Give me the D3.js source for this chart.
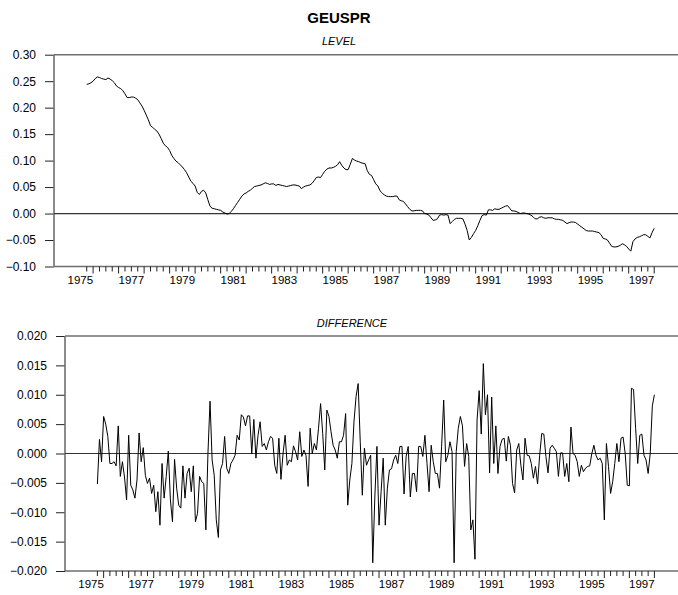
<!DOCTYPE html>
<html><head><meta charset="utf-8">
<script src="https://cdn.jsdelivr.net/npm/d3@7/dist/d3.min.js"></script>
<style>body{margin:0;background:#fff}svg{display:block;font-family:"Liberation Sans",Arial,sans-serif}</style>
</head><body><svg id="c" width="678" height="595"></svg>
<script>
// Monthly observations starting 1975:10
const startYear = 1975.75;
const level = [
0.244,0.245,0.247,0.250,0.255,0.258,0.257,0.255,0.254,0.253,0.256,0.254,0.251,0.247,0.241,0.238,0.236,0.232,0.226,0.219,
0.219,0.220,0.220,0.218,0.215,0.209,0.203,0.195,0.186,0.177,0.166,0.163,0.159,0.156,0.150,0.142,0.133,0.128,0.125,0.119,
0.110,0.104,0.099,0.096,0.092,0.088,0.083,0.077,0.069,0.061,0.057,0.052,0.040,0.036,0.042,0.044,0.039,0.026,0.014,0.010,
0.009,0.008,0.007,0.006,0.003,0.001,-0.001,0.000,0.004,0.009,0.015,0.021,0.027,0.033,0.037,0.039,0.042,0.044,0.048,0.051,
0.052,0.053,0.054,0.056,0.058,0.057,0.055,0.056,0.056,0.053,0.055,0.054,0.053,0.052,0.051,0.052,0.053,0.054,0.054,0.053,
0.052,0.047,0.050,0.052,0.053,0.054,0.057,0.062,0.068,0.069,0.068,0.074,0.080,0.084,0.086,0.086,0.087,0.089,0.092,0.098,
0.091,0.086,0.083,0.083,0.093,0.104,0.101,0.099,0.098,0.096,0.095,0.094,0.081,0.074,0.072,0.064,0.056,0.052,0.043,0.039,
0.035,0.033,0.032,0.032,0.032,0.033,0.033,0.026,0.024,0.023,0.018,0.013,0.008,0.005,0.005,0.006,0.006,0.006,0.005,0.000,
-0.001,-0.003,-0.008,-0.013,-0.012,-0.010,-0.003,-0.002,-0.003,-0.002,-0.003,-0.019,-0.015,-0.011,-0.009,-0.009,-0.009,-0.010,-0.020,-0.032,
-0.050,-0.045,-0.038,-0.032,-0.023,-0.013,-0.004,-0.002,-0.003,0.007,0.007,0.006,0.009,0.008,0.008,0.010,0.012,0.014,0.015,0.010,
0.005,0.005,0.004,0.002,0.000,0.001,0.001,0.000,-0.001,-0.003,-0.006,-0.010,-0.010,-0.007,-0.006,-0.008,-0.009,-0.008,-0.008,-0.008,
-0.010,-0.011,-0.011,-0.012,-0.013,-0.016,-0.019,-0.017,-0.016,-0.016,-0.017,-0.020,-0.023,-0.026,-0.029,-0.032,-0.033,-0.033,-0.033,-0.034,
-0.035,-0.036,-0.040,-0.047,-0.048,-0.050,-0.056,-0.062,-0.063,-0.063,-0.062,-0.060,-0.057,-0.059,-0.062,-0.067,-0.071,-0.053,-0.048,-0.045,
-0.044,-0.042,-0.040,-0.040,-0.043,-0.046,-0.036,-0.028
];
const difference = [
-0.0052,0.0024,-0.0014,0.0063,0.0050,0.0029,-0.0017,-0.0017,-0.0014,-0.0021,0.0047,-0.0039,-0.0014,-0.0040,-0.0079,0.0031,-0.0054,-0.0062,-0.0076,-0.0045,
0.0035,-0.0014,0.0010,-0.0037,-0.0051,-0.0042,-0.0068,-0.0054,-0.0099,-0.0065,-0.0122,-0.0017,-0.0076,-0.0039,0.0004,-0.0079,-0.0116,-0.0010,-0.0059,-0.0088,
-0.0093,-0.0021,-0.0076,-0.0034,-0.0025,-0.0065,-0.0021,-0.0116,-0.0102,-0.0039,-0.0048,-0.0051,-0.0130,0.0000,0.0089,-0.0011,-0.0037,-0.0113,-0.0143,-0.0028,
-0.0017,0.0029,-0.0025,-0.0034,-0.0017,-0.0011,-0.0003,0.0031,0.0023,0.0066,0.0062,0.0047,0.0064,0.0064,0.0000,0.0058,-0.0008,0.0031,0.0054,
0.0012,0.0017,0.0006,0.0020,0.0029,0.0026,-0.0020,-0.0034,0.0026,-0.0044,
0.0000,0.0031,-0.0020,-0.0011,-0.0014,0.0013,0.0003,-0.0011,0.0037,-0.0005,
0.0006,-0.0003,-0.0056,0.0043,0.0000,0.0017,0.0006,0.0043,0.0085,0.0034,
-0.0028,0.0074,0.0063,0.0037,0.0014,0.0006,-0.0008,0.0020,0.0020,0.0031,
0.0068,-0.0088,-0.0045,-0.0017,0.0054,0.0097,0.0119,0.0020,-0.0071,0.0009,
-0.0020,-0.0011,-0.0003,-0.0186,-0.0074,0.0012,-0.0122,-0.0065,-0.0008,-0.0122,
-0.0059,-0.0028,-0.0026,-0.0011,-0.0003,-0.0017,0.0012,0.0012,-0.0069,-0.0005,
0.0012,-0.0074,-0.0034,-0.0034,-0.0065,0.0012,0.0012,-0.0005,0.0031,-0.0017,
-0.0065,0.0014,-0.0014,-0.0034,-0.0034,-0.0059,0.0012,0.0091,-0.0014,-0.0003,
0.0020,0.0003,-0.0186,0.0003,0.0043,0.0063,
0.0047,-0.0022,0.0017,-0.0005,-0.0130,-0.0113,-0.0180,0.0057,0.0107,
0.0033,0.0153,0.0066,0.0100,-0.0033,0.0096,-0.0017,0.0047,-0.0034,
0.0012,0.0024,0.0026,-0.0013,0.0029,0.0014,-0.0051,-0.0067,0.0006,0.0017,
-0.0020,-0.0045,0.0026,-0.0003,-0.0004,-0.0017,-0.0042,-0.0022,-0.0052,-0.0003,
0.0034,0.0033,-0.0005,-0.0033,0.0009,0.0014,0.0009,0.0003,-0.0039,0.0001,
0.0001,-0.0039,-0.0017,-0.0048,0.0045,0.0000,-0.0003,-0.0014,-0.0039,-0.0020,
-0.0031,-0.0025,-0.0022,-0.0021,0.0000,0.0014,-0.0003,-0.0011,-0.0008,-0.0017,
-0.0113,0.0017,-0.0022,-0.0068,-0.0048,-0.0017,0.0017,-0.0014,0.0026,0.0028,
0.0000,-0.0054,-0.0055,0.0111,0.0109,0.0043,-0.0017,0.0031,0.0033,-0.0003,
-0.0011,-0.0034,0.0000,0.0081,0.0100
];
const levelTicks = [-0.10,-0.05,0.00,0.05,0.10,0.15,0.20,0.25,0.30];
const diffTicks = [-0.020,-0.015,-0.010,-0.005,0.000,0.005,0.010,0.015,0.020];
const yearLabels = [1975,1977,1979,1981,1983,1985,1987,1989,1991,1993,1995,1997];
const title = "GEUSPR";

const svg = d3.select("#c");
const W = 678;

function panel(o) {
  const g = svg.append("g");
  const tEnd = startYear + (o.data.length - 1) / 12;
  const x = d3.scaleLinear().domain([1975, 1998]).range([o.x0, o.x1]);
  const y = d3.scaleLinear().domain([o.ticks[0], o.ticks[o.ticks.length-1]]).range([o.yb, o.yt]);
  const axisCol = "#6e6e6e";
  g.append("line").attr("x1", o.ax).attr("x2", W).attr("y1", o.yt).attr("y2", o.yt)
    .attr("stroke", axisCol).attr("stroke-width", 1.6);
  const ya = d3.axisLeft(y).tickValues(o.ticks).tickFormat(d3.format(o.fmt)).tickSize(9).tickPadding(9);
  const yg = g.append("g").attr("transform", `translate(${o.ax},0)`).call(ya);
  yg.select(".domain").remove();
  yg.selectAll(".tick line").attr("stroke", "#222").attr("stroke-width", 1);
  yg.selectAll("text").attr("font-size", 12).attr("fill", "#000").attr("font-family", "Liberation Sans, Arial, sans-serif");
  g.append("line").attr("x1", o.ax).attr("x2", o.ax).attr("y1", o.yt).attr("y2", o.yb).attr("stroke", axisCol).attr("stroke-width", 1.6);
  g.append("line").attr("x1", o.ax).attr("x2", W).attr("y1", o.yb).attr("y2", o.yb).attr("stroke", axisCol).attr("stroke-width", 1.6);
  g.append("line").attr("x1", o.ax).attr("x2", W).attr("y1", y(0)).attr("y2", y(0)).attr("stroke", "#333").attr("stroke-width", 1.2);
  const qt = d3.range(0, Math.round((tEnd - startYear) * 4) + 1).map(k => startYear + k / 4);
  g.append("g").selectAll("line").data(qt).join("line")
    .attr("x1", d => x(d)).attr("x2", d => x(d))
    .attr("y1", o.yb).attr("y2", d => o.yb + (Math.abs(d - Math.round(d)) < 1e-6 ? 7 : 5))
    .attr("stroke", "#222").attr("stroke-width", 1);
  g.append("g").selectAll("text").data(yearLabels).join("text")
    .attr("x", d => x(d + 0.5)).attr("y", o.yb + 17).attr("text-anchor", "middle")
    .attr("font-size", 11.5).text(d => d);
  const line = d3.line().x((d, i) => x(startYear + i / 12)).y(d => y(d));
  g.append("path").datum(o.data).attr("d", line).attr("fill", "none").attr("stroke", "#000").attr("stroke-width", 1);
  g.append("text").attr("x", o.subX).attr("y", o.subY).attr("text-anchor", "middle")
    .attr("font-size", 11).attr("font-style", "italic").text(o.sub);
}

svg.append("text").attr("x", 339).attr("y", 23).attr("text-anchor", "middle")
  .attr("font-size", 15).attr("font-weight", "bold").text(title);

panel({data: level, ticks: levelTicks, fmt: ".2f", ax: 54, x0: 67.6, x1: 654.2, yt: 54.7, yb: 266.5,
       sub: "LEVEL", subX: 339, subY: 45});
panel({data: difference, ticks: diffTicks, fmt: ".3f", ax: 65, x0: 78.6, x1: 654.4, yt: 336, yb: 571,
       sub: "DIFFERENCE", subX: 352, subY: 327});
</script></body></html>
